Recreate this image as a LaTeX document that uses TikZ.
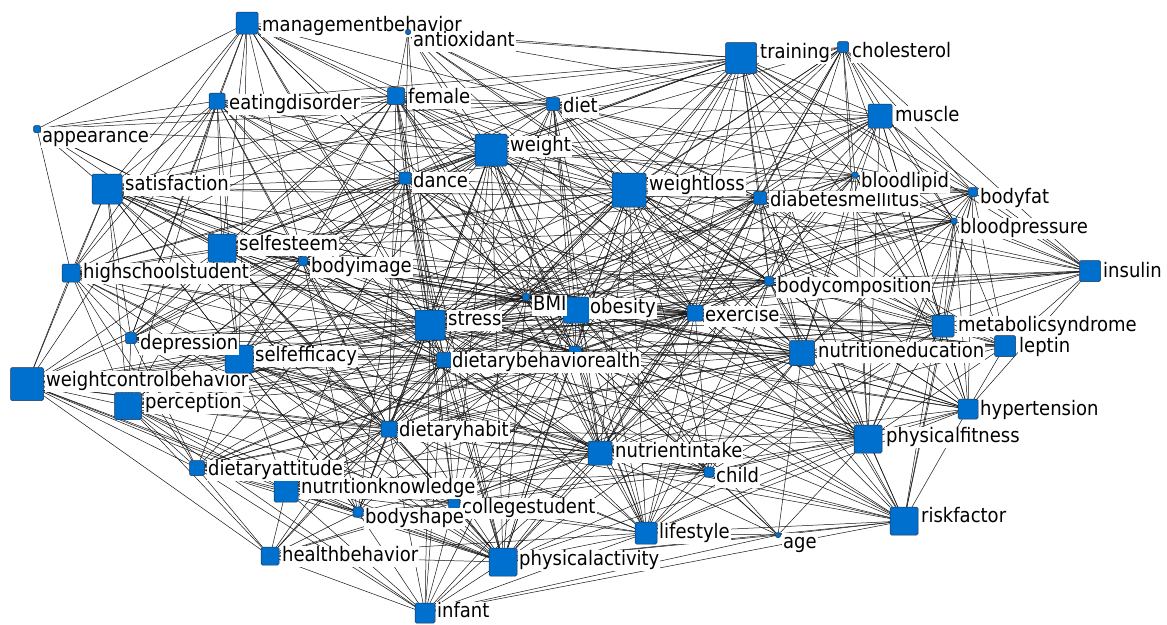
\documentclass[tikz,border=0pt]{standalone}
\usepackage{fontspec}
\setmainfont{DejaVu Sans}[FakeStretch=0.9]
\pgfdeclarelayer{bg}
\pgfdeclarelayer{edges}
\pgfsetlayers{bg,edges,main}
\definecolor{termfill}{RGB}{0,112,206}
\definecolor{termline}{RGB}{30,50,80}
\newcommand\edgesfrom[2]{\foreach \t in {#2} {\draw[edge] (#1) -- (\t);}}
\begin{document}
\begin{tikzpicture}[x=1pt,y=-1pt,
  sq/.style={draw=termline,line width=0.5pt,fill=termfill,rounded corners=1.5pt,inner sep=0pt,outer sep=0pt},
  lbl/.style={font=\fontsize{20}{24}\selectfont,fill=white,inner xsep=1pt,inner ysep=0.5pt,
    text height=15pt,text depth=4.5pt,anchor=base west},
  edge/.style={draw=black!92,line width=0.5pt}]
\useasboundingbox (0,0) rectangle (1167,624);
\begin{pgfonlayer}{bg}
\fill[white] (0,0) rectangle (1167,624);
\end{pgfonlayer}

% each term: square, then its label on top
% name / label / square x / square y / side / label x / label y
\foreach \n/\tx/\x/\y/\s/\lx/\ly in {
 mgmt/managementbehavior/247/23/22/262/26,
 antiox/antioxidant/408/32/5/413/41,
 eatdis/eatingdisorder/217/101/16/229/104,
 appear/appearance/37/129/7/42/137,
 female/female/396/96/17/408/98,
 diet/diet/553/104/13/563/107,
 training/training/741/58/31/760/53,
 chol/cholesterol/843/47/11/852/52,
 muscle/muscle/880/116/24/895/116,
 weight/weight/491/150/32/510/146,
 dance/dance/405/178/12/413/182,
 wloss/weightloss/629/190/34/649/185,
 diab/diabetesmellitus/760/198/13/770/201,
 blipid/bloodlipid/855/175/6/861/182,
 bfat/bodyfat/973/192/9/980/198,
 bpress/bloodpressure/954/221/6/960/228,
 insulin/insulin/1090/271/21/1103/272,
 bcomp/bodycomposition/769/281/9/777/287,
 metsyn/metabolicsyndrome/943/326/22/958/326,
 leptin/leptin/1005/346/21/1019/347,
 nedu/nutritioneducation/802/353/25/818/352,
 hyper/hypertension/968/409/20/980/410,
 pfit/physicalfitness/868/439/28/886/437,
 risk/riskfactor/904/521/28/921/517,
 age/age/778/535/5/783/543,
 child/child/709/472/10/716/477,
 nintake/nutrientintake/600/453/24/615/452,
 life/lifestyle/646/533/22/659/533,
 pact/physicalactivity/503/562/28/519/560,
 infant/infant/425/613/20/437/612,
 college/collegestudent/454/503/11/462/508,
 bshape/bodyshape/358/512/10/365/518,
 nknow/nutritionknowledge/286/490/24/301/488,
 dattit/dietaryattitude/197/468/15/208/470,
 hbeh/healthbehavior/270/556/18/282/556,
 dhabit/dietaryhabit/389/429/16/399/431,
 percep/perception/128/406/27/145/403,
 wcb/weightcontrolbehavior/27/384/33/46/381,
 seff/selfefficacy/239/359/28/255/356,
 depress/depression/131/338/11/140/344,
 hss/highschoolstudent/71/273/18/83/273,
 sesteem/selfesteem/222/248/28/239/245,
 bimage/bodyimage/303/261/9/311/267,
 satis/satisfaction/107/189/30/125/185,
 stress/stress/430/325/30/448/320,
 obesity/obesity/576/310/26/590/308,
 bmi/BMI/526/297/7/533/305,
 exercise/exercise/695/313/16/705/316,
 health/health/575/352/12/583/362,
 dbeh/dietarybehavior/444/360/15/452/362}
{
 \node[sq,minimum size=\s pt] (\n) at (\x,\y) {};
 \node[lbl] (\n-l) at (\lx-1,\ly+5.5) {\tx};
}

% co-occurrence links
\begin{pgfonlayer}{edges}
\edgesfrom{mgmt}{appear,eatdis,satis,female,sesteem,hss,stress,dbeh,weight,diet,wloss,obesity,bimage,dance,seff,depress,bmi,training}
\edgesfrom{antiox}{female,weight,diet,dance,stress,obesity,exercise,training,muscle,diab,wloss,bcomp}
\edgesfrom{eatdis}{appear,satis,female,diet,sesteem,hss,stress,bimage,dance,weight,depress,dbeh,obesity,wloss,seff,percep,dhabit,bmi,wcb,exercise,training}
\edgesfrom{appear}{satis,hss,sesteem,female,diet,weight,bimage,stress}
\edgesfrom{female}{satis,diet,weight,dance,stress,dbeh,sesteem,bimage,obesity,wloss,exercise,bmi,dhabit,nintake,pact,hss,seff,depress,bcomp,diab,training,health}
\edgesfrom{diet}{weight,wloss,training,muscle,obesity,exercise,bmi,stress,dbeh,diab,bcomp,nintake,blipid,bfat,chol,metsyn,dance,satis,sesteem,life,health,nedu}
\edgesfrom{training}{chol,muscle,weight,wloss,diab,blipid,bfat,bcomp,exercise,obesity,bmi,metsyn,pfit,stress,dance,satis,sesteem,nedu,insulin,bpress,health,nintake}
\edgesfrom{chol}{muscle,weight,wloss,diab,blipid,bfat,bpress,bcomp,metsyn,obesity,exercise,bmi,nintake,pfit,insulin,stress}
\edgesfrom{muscle}{weight,wloss,diab,blipid,bfat,bpress,bcomp,exercise,obesity,metsyn,pfit,insulin,hyper,stress,bmi,nedu,dance}
\edgesfrom{weight}{dance,wloss,diab,bcomp,obesity,bmi,exercise,stress,dbeh,dhabit,nintake,satis,sesteem,bimage,hss,percep,seff,depress,pact,life,nedu,metsyn,health,college,bshape,child,pfit,blipid,bfat,wcb,dattit}
\edgesfrom{dance}{stress,sesteem,satis,bimage,hss,wloss,obesity,bmi,dbeh,exercise,dhabit,pact,depress,seff,pfit,bshape,health,percep,nknow,college}
\edgesfrom{wloss}{diab,bcomp,obesity,bmi,exercise,stress,dbeh,nintake,blipid,bfat,bpress,metsyn,insulin,nedu,pfit,life,pact,dhabit,sesteem,satis,seff,hss,health,child,risk,leptin,hyper}
\edgesfrom{diab}{blipid,bfat,bpress,insulin,bcomp,metsyn,obesity,exercise,bmi,nedu,hyper,pfit,risk,nintake,stress,life,health,dbeh,leptin,satis,sesteem}
\edgesfrom{blipid}{bfat,bpress,bcomp,metsyn,obesity,exercise,bmi,insulin,hyper,nedu,stress,pfit,nintake}
\edgesfrom{bfat}{bpress,bcomp,metsyn,insulin,obesity,exercise,bmi,hyper,pfit,leptin,nedu,risk}
\edgesfrom{bpress}{bcomp,metsyn,insulin,obesity,exercise,bmi,hyper,pfit,risk,nedu,leptin,stress,sesteem}
\edgesfrom{insulin}{bcomp,metsyn,leptin,obesity,exercise,bmi,nedu,hyper,stress}
\edgesfrom{bcomp}{metsyn,obesity,exercise,bmi,nedu,pfit,hyper,stress,dbeh,nintake,sesteem,bimage,satis,hss,leptin,risk,health,child,life,pact}
\edgesfrom{metsyn}{leptin,nedu,hyper,pfit,obesity,exercise,bmi,stress,risk,nintake,life,health,child,dbeh}
\edgesfrom{leptin}{nedu,hyper,obesity,exercise,pfit,bmi,stress,nintake}
\edgesfrom{nedu}{hyper,pfit,risk,obesity,exercise,bmi,stress,dbeh,nintake,dhabit,child,life,pact,age,health,nknow,college,seff,sesteem,percep,dattit,bimage}
\edgesfrom{hyper}{pfit,risk,obesity,exercise,nintake,stress,health,life,child,bmi}
\edgesfrom{pfit}{risk,age,obesity,exercise,bmi,stress,nintake,child,life,pact,health,dhabit,dbeh,seff,sesteem,college}
\edgesfrom{risk}{age,obesity,exercise,nintake,child,life,pact,health,stress,bmi,dhabit,infant}
\edgesfrom{age}{child,life,pact,infant,nintake,obesity,health}
\edgesfrom{child}{nintake,life,pact,obesity,exercise,bmi,dhabit,dbeh,health,stress,college,nknow,seff,depress}
\edgesfrom{nintake}{life,pact,dhabit,dbeh,obesity,exercise,bmi,stress,health,college,bshape,nknow,dattit,hss,sesteem,seff,depress,percep,infant,hbeh,wcb,satis,bimage}
\edgesfrom{life}{pact,infant,college,dhabit,dbeh,obesity,exercise,stress,health,nknow,hbeh,bmi,seff}
\edgesfrom{pact}{infant,college,bshape,nknow,hbeh,dhabit,dbeh,obesity,exercise,stress,health,seff,sesteem,hss,percep,dattit,wcb,bmi,depress,satis,bimage}
\edgesfrom{infant}{college,bshape,nknow,hbeh,dhabit,dattit,dbeh,stress,obesity,exercise,percep}
\edgesfrom{college}{bshape,nknow,hbeh,dhabit,dattit,dbeh,stress,obesity,exercise,seff,sesteem,health,bmi,percep}
\edgesfrom{bshape}{nknow,hbeh,dattit,dhabit,dbeh,stress,percep,sesteem,bimage,seff,satis,wcb,obesity}
\edgesfrom{nknow}{dattit,hbeh,dhabit,dbeh,percep,wcb,stress,seff,obesity,health,exercise,bmi}
\edgesfrom{dattit}{hbeh,percep,wcb,dhabit,dbeh,seff,stress,hss,depress,obesity,exercise,health}
\edgesfrom{hbeh}{wcb,percep,dhabit,dbeh,stress}
\edgesfrom{dhabit}{percep,wcb,depress,seff,hss,sesteem,bimage,satis,stress,bmi,obesity,exercise,dbeh,health}
\edgesfrom{percep}{wcb,depress,seff,hss,sesteem,bimage,satis,stress,dbeh,obesity,exercise,bmi,health}
\edgesfrom{wcb}{depress,seff,hss,sesteem,satis,stress,dbeh,bmi,obesity,exercise}
\edgesfrom{depress}{seff,hss,sesteem,bimage,satis,stress,dbeh,bmi,obesity,exercise,health}
\edgesfrom{seff}{hss,sesteem,bimage,satis,stress,dbeh,bmi,obesity,exercise,health}
\edgesfrom{hss}{sesteem,bimage,satis,stress,dbeh,bmi,obesity,exercise,health}
\edgesfrom{sesteem}{bimage,satis,stress,dbeh,bmi,obesity,exercise,health}
\edgesfrom{bimage}{satis,stress,dbeh,bmi,obesity,exercise,health}
\edgesfrom{satis}{stress,dbeh,bmi,obesity,exercise,health}
\edgesfrom{stress}{bmi,obesity,exercise,dbeh,health}
\edgesfrom{bmi}{obesity,exercise,dbeh,health}
\edgesfrom{obesity}{exercise,dbeh,health}
\edgesfrom{exercise}{dbeh,health}
\edgesfrom{dbeh}{health}
\end{pgfonlayer}
\end{tikzpicture}
\end{document}
